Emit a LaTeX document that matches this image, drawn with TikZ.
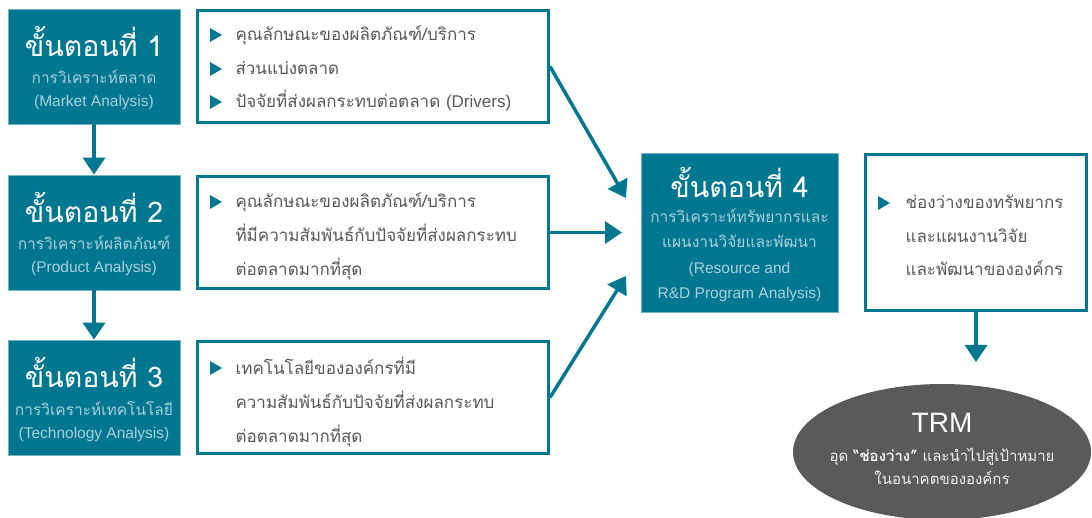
\documentclass[tikz,border=0pt]{standalone}
\usepackage{fontspec}
\setmainfont{Liberation Sans}
\newfontfamily\thai[Script=Thai]{Loma}
\usepackage{tikz}
\usetikzlibrary{calc,arrows.meta,shapes.geometric}
\definecolor{tealc}{RGB}{0,119,145}
\definecolor{subc}{RGB}{172,208,220}
\definecolor{txtc}{RGB}{88,88,88}
\definecolor{ovalc}{RGB}{90,90,90}
\tikzset{>={Triangle[length=17pt,width=22pt]},
  stepbox/.style={fill=tealc, draw=tealc!55!white, line width=0.8pt, minimum width=172pt, minimum height=115pt, inner sep=0pt},
  infobox/.style={draw=tealc, line width=3pt, fill=white, minimum width=351pt, minimum height=112pt, inner sep=0pt},
  ttl/.style={anchor=base, text=white, font=\fontsize{28.5}{30}\selectfont\thai},
  sub/.style={anchor=base, text=subc, font=\fontsize{15.5}{17}\selectfont},
  btxt/.style={anchor=base west, text=txtc, font=\fontsize{17}{19}\selectfont\thai},
  link/.style={->, draw=tealc, line width=3.5pt}
}
% bullet triangle
\newcommand{\tribul}[1]{\fill[tealc] (#1) ++(-6,-7) -- ++(12,7) -- ++(-12,7) -- cycle;}

\begin{document}
\begin{tikzpicture}[x=1pt, y=-1pt]
    \useasboundingbox (0,0) rectangle (1092,518);

    % Step boxes on the left
    \node[stepbox] (step1) at (94,66.5) {};
    \node[stepbox] (step2) at (94,232.5) {};
    \node[stepbox] (step3) at (94,397.5) {};

    \node[ttl] (t1) at (94,57) {ขั้นตอนที่ 1};
    \node[sub] (s1a) at (94,84) {\thai การวิเคราะห์ตลาด};
    \node[sub] (s1b) at (94,107) {(Market Analysis)};

    \node[ttl] (t2) at (94,223) {ขั้นตอนที่ 2};
    \node[sub] (s2a) at (94,250) {\thai การวิเคราะห์ผลิตภัณฑ์};
    \node[sub] (s2b) at (94,273) {(Product Analysis)};

    \node[ttl] (t3) at (94,388) {ขั้นตอนที่ 3};
    \node[sub] (s3a) at (94,415) {\thai การวิเคราะห์เทคโนโลยี};
    \node[sub] (s3b) at (94,438) {(Technology Analysis)};

    % Arrows between steps
    \draw[link] (step1) -- (step2);
    \draw[link] (step2) -- (step3);

    % Detail boxes
    \node[infobox] (info1) at (373,66.5) {};
    \node[infobox] (info2) at (373,232.5) {};
    \node[infobox] (info3) at (373,397.5) {};

    \tribul{216,35}
    \node[btxt] (l11) at (232,41) {คุณลักษณะของผลิตภัณฑ์/บริการ};
    \tribul{216,69}
    \node[btxt] (l12) at (232,75) {ส่วนแบ่งตลาด};
    \tribul{216,102}
    \node[btxt] (l13) at (232,108) {ปัจจัยที่ส่งผลกระทบต่อตลาด \fontspec{Liberation Sans}(Drivers)};

    \tribul{216,202}
    \node[btxt] (l21) at (232,208) {คุณลักษณะของผลิตภัณฑ์/บริการ};
    \node[btxt] (l22) at (232,242) {ที่มีความสัมพันธ์กับปัจจัยที่ส่งผลกระทบ};
    \node[btxt] (l23) at (232,276) {ต่อตลาดมากที่สุด};

    \tribul{216,368}
    \node[btxt] (l31) at (232,374) {เทคโนโลยีขององค์กรที่มี};
    \node[btxt] (l32) at (232,408) {ความสัมพันธ์กับปัจจัยที่ส่งผลกระทบ};
    \node[btxt] (l33) at (232,442) {ต่อตลาดมากที่สุด};

    % Step 4
    \node[stepbox, minimum width=197pt, minimum height=159pt] (step4) at (739.5,232.5) {};
    \node[ttl] (t4) at (739.5,198) {ขั้นตอนที่ 4};
    \node[sub] (s4a) at (739.5,223) {\thai การวิเคราะห์ทรัพยากรและ};
    \node[sub] (s4b) at (739.5,248) {\thai แผนงานวิจัยและพัฒนา};
    \node[sub] (s4c) at (739.5,274) {(Resource and};
    \node[sub] (s4d) at (739.5,299) {R\&D Program Analysis)};

    % Arrows into step 4
    \coordinate (tipA) at (626,198);
    \coordinate (tipB) at (622,232.5);
    \coordinate (tipC) at (626,276);
    \draw[link] (info1.east) -- (tipA);
    \draw[link] (info2.east) -- (tipB);
    \draw[link] (info3.east) -- (tipC);

    % Gap box
    \node[infobox, minimum width=221pt, minimum height=156pt] (gap) at (976,232.5) {};
    \tribul{884,203}
    \node[btxt] (g1) at (902,209) {ช่องว่างของทรัพยากร};
    \node[btxt] (g2) at (902,243) {และแผนงานวิจัย};
    \node[btxt] (g3) at (902,276) {และพัฒนาขององค์กร};

    % TRM oval
    \fill[ovalc] (942,452) ellipse [x radius=149, y radius=68];
    \coordinate (trmtop) at (976,362);
    \draw[link] (gap.south) -- (trmtop);
    \node[anchor=base, text=white, font=\fontsize{28}{30}\selectfont] (trm) at (942,432) {TRM};
    \node[anchor=base, text=white!90!gray, font=\fontsize{15}{17}\selectfont\thai] (trm1) at (942,461) {อุด \textbf{“ช่องว่าง”} และนำไปสู่เป้าหมาย};
    \node[anchor=base, text=white!90!gray, font=\fontsize{15}{17}\selectfont\thai] (trm2) at (942,484) {ในอนาคตขององค์กร};

\end{tikzpicture}
\end{document}
